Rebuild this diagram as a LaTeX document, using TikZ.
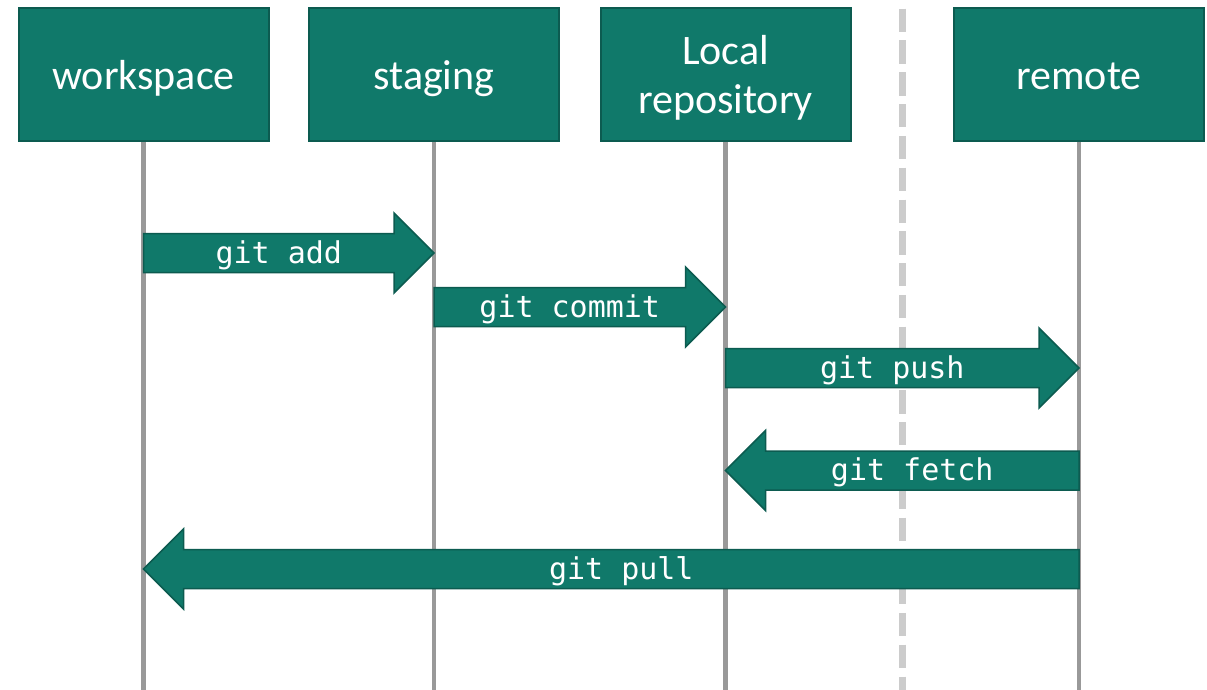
\documentclass[tikz,border=0pt]{standalone}
\usepackage{fontspec}
\setmainfont{Carlito}
\newfontfamily\codefont{DejaVu Sans Mono}
\usetikzlibrary{calc}

\definecolor{gitteal}{HTML}{10796A}
\definecolor{gitdark}{HTML}{0C5B50}
\definecolor{lifegray}{HTML}{999999}
\definecolor{splitgray}{HTML}{CCCCCC}

\tikzset{
  stagebox/.style={rectangle, fill=gitteal, draw=gitdark, line width=2pt,
    minimum width=250pt, minimum height=133.5pt, inner sep=0pt},
  boxtext/.style={text=white, inner sep=0pt,
    font=\fontsize{42}{49}\selectfont},
  lifeline/.style={draw=lifegray, line width=4.5pt},
  splitline/.style={draw=splitgray, line width=7.5pt, dash pattern=on 23.3pt off 8.5pt},
  flow/.style={fill=gitteal, draw=gitdark, line width=1.5pt, line join=miter},
  flowtext/.style={text=white, inner sep=0pt,
    font=\codefont\fontsize{30}{36}\selectfont},
}

% block arrow: name, tail, tip, direction (1 = right, -1 = left), label
\newcommand\flowarrow[5]{%
  \draw[flow] ($(#2)+(0,-19.5)$) -- ($(#3)+({-40*(#4)},-19.5)$)
    -- ($(#3)+({-40*(#4)},-40)$) -- (#3)
    -- ($(#3)+({-40*(#4)},40)$) -- ($(#3)+({-40*(#4)},19.5)$)
    -- ($(#2)+(0,19.5)$) -- cycle;
  \node[flowtext, anchor=base] (#1) at ($(#2)!0.5!(#3)+({-10*(#4)},10)$) {#5};
}

\begin{document}
\begin{tikzpicture}[x=1pt, y=-1pt]
\useasboundingbox[fill=white] (0,0) rectangle (1207,690);

% local / remote divider
\coordinate (split-top) at (902.5,8.7);
\coordinate (split-bot) at (902.5,690);
\draw[splitline] (split-top) -- (split-bot);

% stage boxes
\node[stagebox] (ws) at (143.5,74.75) {};
\node[stagebox] (st) at (434,74.75) {};
\node[stagebox] (lr) at (725.5,74.75) {};
\node[stagebox] (rm) at (1079,74.75) {};

\node[boxtext, anchor=base] (ws-t) at ($(ws.center)+(0,14.5)$) {workspace};
\node[boxtext, anchor=base] (st-t) at ($(st.center)+(0,14.5)$) {staging};
\node[boxtext, anchor=base] (lr-t1) at ($(lr.center)+(0,-10.5)$) {Local};
\node[boxtext, anchor=base] (lr-t2) at ($(lr.center)+(0,38.5)$) {repository};
\node[boxtext, anchor=base] (rm-t) at ($(rm.center)+(0,14.5)$) {remote};

% lifelines
\foreach \n in {ws,st,lr,rm}{
  \coordinate (\n-end) at (\n.south |- 0,690);
  \draw[lifeline] (\n.south) -- (\n-end);
}

% arrow end points on the lifelines
\coordinate (add-a) at (ws.south |- 0,253);
\coordinate (add-b) at (st.south |- 0,253);
\coordinate (commit-a) at (st.south |- 0,307);
\coordinate (commit-b) at (lr.south |- 0,307);
\coordinate (push-a) at (lr.south |- 0,368);
\coordinate (push-b) at (rm.south |- 0,368);
\coordinate (fetch-a) at (rm.south |- 0,470.5);
\coordinate (fetch-b) at (lr.south |- 0,470.5);
\coordinate (pull-a) at (rm.south |- 0,569);
\coordinate (pull-b) at (ws.south |- 0,569);

\flowarrow{add}{add-a}{add-b}{1}{git add}
\flowarrow{commit}{commit-a}{commit-b}{1}{git commit}
\flowarrow{push}{push-a}{push-b}{1}{git push}
\flowarrow{fetch}{fetch-a}{fetch-b}{-1}{git fetch}
\flowarrow{pull}{pull-a}{pull-b}{-1}{git pull}
\end{tikzpicture}
\end{document}
